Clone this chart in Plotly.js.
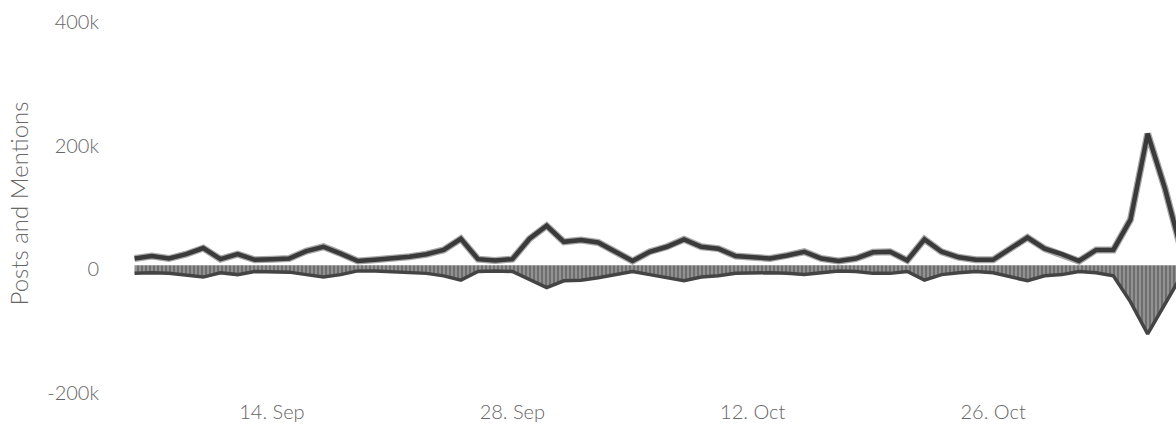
<!DOCTYPE html>
<html>
<head>
<meta charset="utf-8">
<script src="https://cdn.plot.ly/plotly-3.0.1.min.js"></script>
<style>
  html, body { margin: 0; padding: 0; background: #ffffff; }
  #chart { width: 1176px; height: 427px; }
</style>
</head>
<body>
<div id="chart"></div>
<script>
// Daily dates (categories)
var dates = [
  '2019-09-06','2019-09-07','2019-09-08','2019-09-09','2019-09-10','2019-09-11','2019-09-12','2019-09-13',
  '2019-09-14','2019-09-15','2019-09-16','2019-09-17','2019-09-18','2019-09-19','2019-09-20','2019-09-21',
  '2019-09-22','2019-09-23','2019-09-24','2019-09-25','2019-09-26','2019-09-27','2019-09-28','2019-09-29',
  '2019-09-30','2019-10-01','2019-10-02','2019-10-03','2019-10-04','2019-10-05','2019-10-06','2019-10-07',
  '2019-10-08','2019-10-09','2019-10-10','2019-10-11','2019-10-12','2019-10-13','2019-10-14','2019-10-15',
  '2019-10-16','2019-10-17','2019-10-18','2019-10-19','2019-10-20','2019-10-21','2019-10-22','2019-10-23',
  '2019-10-24','2019-10-25','2019-10-26','2019-10-27','2019-10-28','2019-10-29','2019-10-30','2019-10-31',
  '2019-11-01','2019-11-02','2019-11-03','2019-11-04','2019-11-05','2019-11-06'
];

// Posts (positive line)
var posts = [
  11000, 15000, 11000, 18000, 28000, 10000, 18000, 9000,
  10000, 11000, 23000, 30000, 19000, 7000, 9000, 11000,
  14000, 18000, 25000, 43000, 10000, 8000, 10000, 43000,
  64000, 38000, 41000, 37000, 22000, 7000, 22000, 30000,
  42000, 30000, 27000, 15000, 13000, 11000, 16000, 22000,
  11000, 7000, 11000, 21000, 22000, 8000, 42000, 22000,
  13000, 9000, 9000, 26000, 45000, 27000, 18000, 7000,
  25000, 25000, 74000, 213000, 125000, 20000
];

// Mentions (negative area)
var mentions = [
  -13000, -12000, -13000, -16000, -19000, -12000, -15000, -10000,
  -10000, -11000, -15000, -19000, -15000, -9000, -9000, -10000,
  -12000, -13000, -17000, -24000, -10000, -9000, -10000, -23000,
  -36000, -25000, -24000, -20000, -15000, -10000, -15000, -20000,
  -25000, -19000, -17000, -13000, -12000, -12000, -13000, -15000,
  -12000, -9000, -10000, -13000, -13000, -10000, -24000, -15000,
  -12000, -10000, -12000, -19000, -25000, -17000, -15000, -10000,
  -12000, -17000, -59000, -111000, -64000, -15000
];

// Axis ticks
var xTickVals = ['2019-09-14', '2019-09-28', '2019-10-12', '2019-10-26'];
var xTickText = ['14. Sep', '28. Sep', '12. Oct', '26. Oct'];
var yTickVals = [-200000, 0, 200000, 400000];
var yTickText = ['-200k', '0', '200k', '400k'];

var fontFamily = 'Lato, "Open Sans", "DejaVu Sans", sans-serif';
var textColor = '#666666';

var traces = [
  {
    type: 'scatter',
    mode: 'lines',
    name: 'Mentions',
    x: dates,
    y: mentions,
    fill: 'tozeroy',
    fillcolor: '#8a8a8a',
    fillpattern: { shape: '|', bgcolor: '#929292', fgcolor: '#6a6a6a', size: 4, solidity: 0.45 },
    line: { color: '#444444', width: 3.5 },
    hoverinfo: 'x+y'
  },
  {
    type: 'scatter',
    mode: 'lines',
    name: 'Posts halo',
    x: dates,
    y: posts,
    line: { color: '#a8a8a8', width: 7 },
    hoverinfo: 'skip'
  },
  {
    type: 'scatter',
    mode: 'lines',
    name: 'Posts',
    x: dates,
    y: posts,
    line: { color: '#3a3a3a', width: 4.5 },
    hoverinfo: 'x+y'
  }
];

var layout = {
  width: 1176,
  height: 427,
  margin: { l: 128, r: 0, t: 18, b: 38, pad: 0 },
  paper_bgcolor: '#ffffff',
  plot_bgcolor: '#ffffff',
  showlegend: false,
  font: { family: fontFamily, color: textColor, size: 20, weight: 300 },
  xaxis: {
    type: 'date',
    range: ['2019-09-05 14:47', '2019-11-05 15:36'],
    tickvals: xTickVals,
    ticktext: xTickText,
    showgrid: false,
    zeroline: false,
    showline: false,
    ticks: '',
    ticklabelstandoff: 9,
    tickfont: { family: fontFamily, size: 20, color: textColor, weight: 300 }
  },
  yaxis: {
    range: [-200000, 400000],
    tickvals: yTickVals,
    ticktext: yTickText,
    showgrid: false,
    zeroline: false,
    showline: false,
    ticks: '',
    ticklabelstandoff: 28,
    ticklabelshift: 4,
    tickfont: { family: fontFamily, size: 20, color: textColor, weight: 300 },
    title: {
      text: 'Posts and Mentions',
      font: { family: fontFamily, size: 24, color: textColor, weight: 300 },
      standoff: 11
    }
  }
};

Plotly.newPlot('chart', traces, layout, { staticPlot: true, displayModeBar: false });
</script>
</body>
</html>
